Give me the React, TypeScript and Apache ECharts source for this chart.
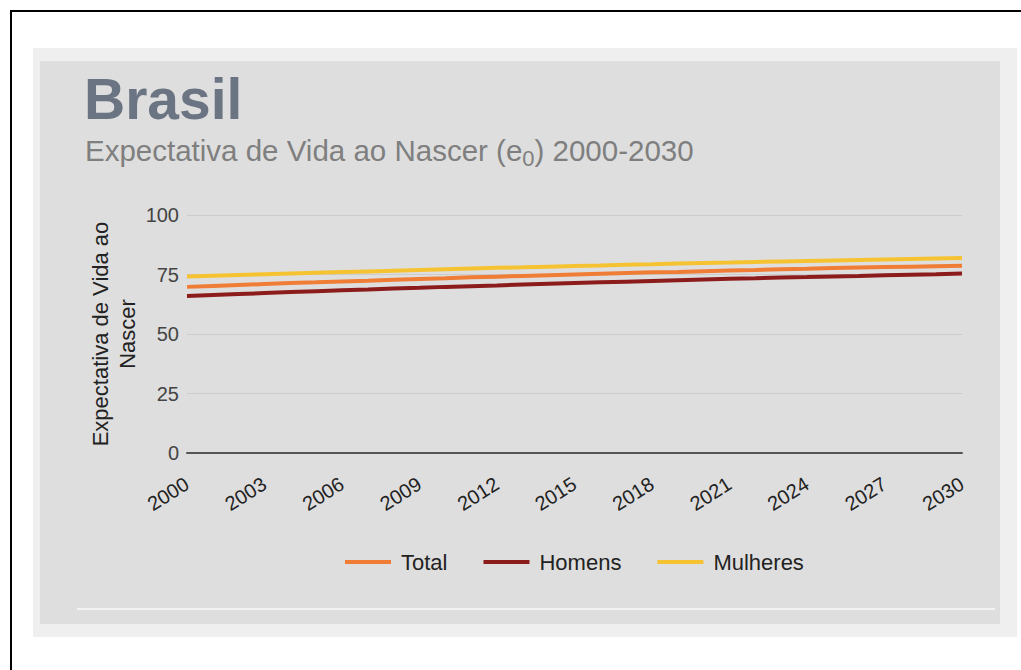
import React, { useEffect, useRef } from "react";
import * as echarts from "echarts";

const years = [
  "2000", "2001", "2002", "2003", "2004", "2005", "2006", "2007", "2008", "2009",
  "2010", "2011", "2012", "2013", "2014", "2015", "2016", "2017", "2018", "2019",
  "2020", "2021", "2022", "2023", "2024", "2025", "2026", "2027", "2028", "2029", "2030",
];
const total = [
  69.8, 70.2, 70.6, 71.0, 71.4, 71.7, 72.1, 72.4, 72.8, 73.1,
  73.4, 73.8, 74.1, 74.4, 74.7, 75.0, 75.3, 75.6, 75.9, 76.1,
  76.4, 76.7, 76.9, 77.2, 77.4, 77.7, 77.9, 78.1, 78.3, 78.5, 78.7,
];
const homens = [
  66.0, 66.4, 66.8, 67.2, 67.6, 68.0, 68.4, 68.7, 69.1, 69.4,
  69.8, 70.1, 70.4, 70.8, 71.1, 71.4, 71.7, 72.0, 72.3, 72.6,
  72.9, 73.2, 73.4, 73.7, 73.9, 74.2, 74.4, 74.7, 74.9, 75.1, 75.4,
];
const mulheres = [
  74.2, 74.5, 74.8, 75.1, 75.4, 75.7, 76.0, 76.3, 76.6, 76.9,
  77.2, 77.5, 77.8, 78.0, 78.3, 78.6, 78.8, 79.1, 79.3, 79.6,
  79.8, 80.0, 80.3, 80.5, 80.7, 80.9, 81.1, 81.3, 81.5, 81.7, 81.9,
];
const seriesNames = ["Total", "Homens", "Mulheres"];
const seriesColors = ["#ef7d35", "#8c1c1c", "#f5c332"];
const yTicks = { min: 0, max: 100, interval: 25 };
const yAxisTitle = "Expectativa de Vida ao\nNascer";

const FONT = "Arial, 'Liberation Sans', sans-serif";

export default function App() {
  const ref = useRef<HTMLDivElement>(null);
  useEffect(() => {
    if (!ref.current) return;
    const chart = echarts.init(ref.current, null, { renderer: "svg" });
    const data = [total, homens, mulheres];
    chart.setOption({
      animation: false,
      backgroundColor: "#ffffff",
      textStyle: { fontFamily: FONT },
      graphic: [
        { type: "rect", z: -10, shape: { x: 11, y: 11, width: 1200, height: 1000 }, style: { fill: "none", stroke: "#000000", lineWidth: 2 } },
        { type: "rect", z: -9, shape: { x: 33, y: 48, width: 984, height: 589 }, style: { fill: "#efefef" } },
        { type: "rect", z: -8, shape: { x: 40, y: 61, width: 960, height: 563 }, style: { fill: "#dedede" } },
        { type: "rect", z: -7, shape: { x: 77, y: 608, width: 918, height: 2 }, style: { fill: "#f3f3f3" } },
        {
          type: "text", z: 10,
          style: { x: 84, y: 99, text: "Brasil", fontSize: 57, fontWeight: "bold", fontFamily: FONT, fill: "#6b7482", verticalAlign: "middle", align: "left" },
        },
        {
          type: "text", z: 10,
          style: {
            x: 85, y: 150, align: "left", verticalAlign: "middle",
            text: "{a|Expectativa de Vida ao Nascer (e}{s|0}{a|) 2000-2030}",
            rich: {
              a: { fontSize: 29.5, fontFamily: FONT, fill: "#7f7f7f", lineHeight: 38, verticalAlign: "middle" },
              s: { fontSize: 22, fontFamily: FONT, fill: "#7f7f7f", lineHeight: 38, verticalAlign: "bottom" },
            },
          },
        },
        {
          type: "text", z: 10,
          x: 114, y: 334, rotation: Math.PI / 2,
          style: {
            x: 0, y: 0, text: yAxisTitle, align: "center", verticalAlign: "middle",
            fontSize: 22, lineHeight: 27, fontFamily: FONT, fill: "#222222",
          },
        },
      ],
      legend: {
        left: 340,
        top: 546,
        icon: "rect",
        itemWidth: 46,
        itemHeight: 4,
        itemGap: 36,
        textStyle: { fontSize: 22, color: "#222222", fontFamily: FONT, padding: [0, 0, 0, 5] },
        data: seriesNames,
      },
      grid: { left: 187, right: 59, top: 215, bottom: 217, containLabel: false },
      xAxis: {
        type: "category",
        data: years,
        boundaryGap: false,
        axisLine: { show: true, lineStyle: { color: "#555555", width: 2 } },
        axisTick: { show: false },
        axisLabel: { interval: 2, rotate: 32, margin: 29, fontSize: 20, color: "#222222", fontFamily: FONT },
        splitLine: { show: false },
      },
      yAxis: {
        type: "value",
        min: yTicks.min,
        max: yTicks.max,
        interval: yTicks.interval,
        axisLine: { show: false },
        axisTick: { show: false },
        axisLabel: { margin: 8, fontSize: 20, color: "#444444", fontFamily: FONT },
        splitLine: { lineStyle: { color: "#cccccc", width: 1 } },
      },
      series: seriesNames.map((n, i) => ({
        name: n,
        type: "line",
        data: data[i],
        symbol: "none",
        color: seriesColors[i],
        lineStyle: { width: 4, color: seriesColors[i] },
        z: 3 + i,
      })),
    });
    return () => chart.dispose();
  }, []);
  return (
    <div style={{ position: "fixed", left: 0, top: 0, width: 1021, height: 670, background: "#fff" }}>
      <div ref={ref} style={{ width: 1021, height: 670 }} />
    </div>
  );
}
